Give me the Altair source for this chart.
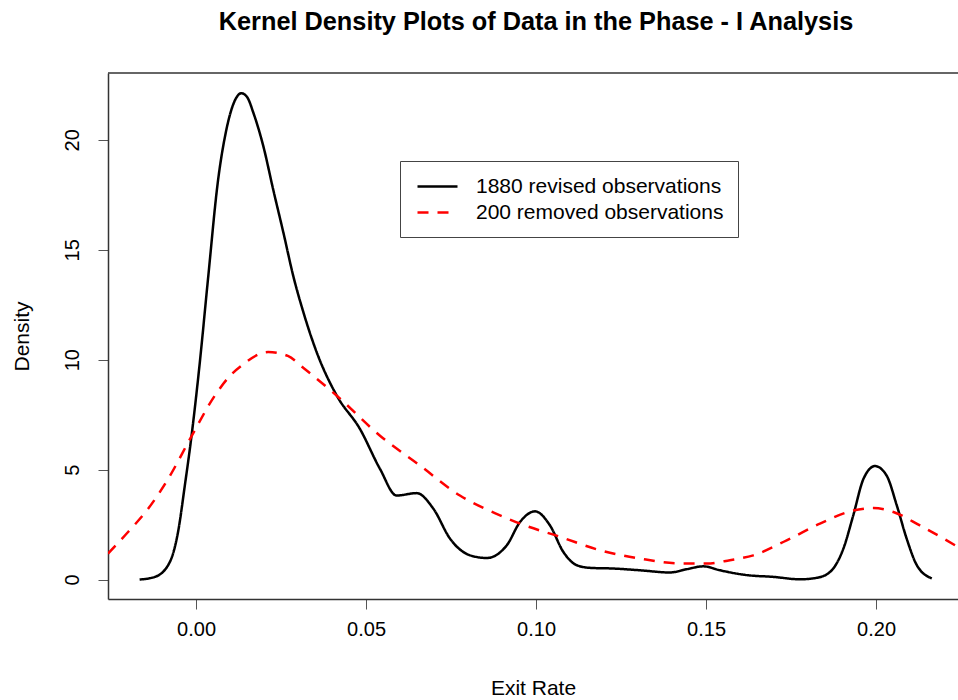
import altair as alt
import pandas as pd

# Black curve: 1880 revised observations
black_x = [-0.0166, -0.0121, -0.0077, -0.0053, -0.0033, -0.0014, 0.0011, 0.0035, 0.0065, 0.0089,
           0.0113, 0.0133, 0.0150, 0.0169, 0.0198, 0.0227, 0.0257, 0.0286, 0.0316, 0.0355,
           0.0414, 0.0482, 0.0541, 0.0590, 0.0649, 0.0698, 0.0747, 0.0806, 0.0855, 0.0914,
           0.0953, 0.0997, 0.1041, 0.1080, 0.1120, 0.1159, 0.1227, 0.1306, 0.1394, 0.1443,
           0.1492, 0.1541, 0.1620, 0.1698, 0.1776, 0.1826, 0.1865, 0.1904, 0.1933, 0.1963,
           0.1997, 0.2031, 0.2061, 0.2090, 0.2120, 0.2164]
black_y = [0.00, 0.12, 0.80, 2.16, 4.28, 6.45, 9.87, 13.65, 18.20, 20.45,
           21.75, 22.12, 21.95, 21.21, 19.70, 17.73, 15.77, 13.80, 12.14, 10.33,
           8.36, 6.85, 5.03, 3.82, 3.93, 3.22, 1.86, 1.10, 0.98, 1.56,
           2.62, 3.10, 2.46, 1.26, 0.65, 0.53, 0.50, 0.42, 0.32, 0.47,
           0.60, 0.42, 0.20, 0.12, 0.01, 0.08, 0.35, 1.41, 2.92, 4.58,
           5.16, 4.73, 3.37, 1.86, 0.65, 0.05]

# Red dashed curve: 200 removed observations
red_x = [-0.0259, -0.0200, -0.0141, -0.0082, -0.0014, 0.0055, 0.0100, 0.0133, 0.0212, 0.0270,
         0.0316, 0.0414, 0.0541, 0.0659, 0.0776, 0.0894, 0.0953, 0.1071, 0.1188, 0.1306,
         0.1424, 0.1502, 0.1570, 0.1639, 0.1737, 0.1835, 0.1933, 0.1992, 0.2051, 0.2129,
         0.2241]
red_y = [1.18, 2.16, 3.22, 4.58, 6.50, 8.36, 9.27, 9.72, 10.35, 10.17,
         9.62, 8.36, 6.54, 5.18, 3.82, 2.92, 2.54, 1.94, 1.33, 0.95,
         0.73, 0.73, 0.88, 1.10, 1.78, 2.54, 3.14, 3.25, 3.07, 2.46,
         1.48]

series_names = ["1880 revised observations", "200 removed observations"]
x_ticks = [0.0, 0.05, 0.10, 0.15, 0.20]
y_ticks = [0, 5, 10, 15, 20]

df = pd.concat([
    pd.DataFrame({"x": black_x, "y": black_y, "series": series_names[0], "order": range(len(black_x))}),
    pd.DataFrame({"x": red_x, "y": red_y, "series": series_names[1], "order": range(len(red_x))}),
])

FONT = "Liberation Sans"
W, H = 850, 526

legend = alt.Legend(
    title=None, orient="none", legendX=292, legendY=88,
    strokeColor="#444444", fillColor="white", padding=14,
    symbolType="M-2,0L2,0", symbolSize=400, symbolStrokeWidth=2.5, symbolOffset=12,
    labelFont=FONT, labelFontSize=21, labelColor="black", labelOffset=27,
    rowPadding=4, labelLimit=500,
)

lines = alt.Chart(df).mark_line(clip=True, strokeWidth=2.5, interpolate="monotone").encode(
    x=alt.X("x:Q",
            scale=alt.Scale(domain=[-0.0259, 0.2241], nice=False, zero=False),
            axis=alt.Axis(values=x_ticks, format=".2f", title="Exit Rate",
                          tickSize=10, labelPadding=10, titleY=89, titleBaseline="middle")),
    y=alt.Y("y:Q",
            scale=alt.Scale(domain=[-0.886, 23.04], nice=False, zero=False),
            axis=alt.Axis(values=y_ticks, format="d", title="Density",
                          tickSize=10, labelAngle=-90, labelAlign="center",
                          labelBaseline="bottom", labelPadding=16,
                          titleX=-86, titleBaseline="middle")),
    color=alt.Color("series:N", scale=alt.Scale(domain=series_names, range=["#000000", "#ff0000"]),
                    legend=legend),
    strokeDash=alt.StrokeDash("series:N", scale=alt.Scale(domain=series_names, range=[[1, 0], [11, 9]]),
                              legend=legend),
    order="order:Q",
)

top_border = alt.Chart(pd.DataFrame({"a": [0]})).mark_rule(color="#333333", strokeWidth=1.5).encode(
    x=alt.value(0), x2=alt.value(W), y=alt.value(0)
)

chart = alt.layer(lines, top_border).properties(
    width=W, height=H,
    autosize=alt.AutoSizeParams(type="none"),
    padding={"left": 108, "top": 73, "right": 0, "bottom": 101},
    title=alt.TitleParams("Kernel Density Plots of Data in the Phase - I Analysis",
                          font=FONT, fontSize=25.3, fontWeight="bold", color="black",
                          anchor="middle", offset=37, dx=3),
).configure_view(stroke=None).configure_axis(
    labelFont=FONT, labelFontSize=20, labelColor="black",
    titleFont=FONT, titleFontSize=21, titleColor="black", titleFontWeight="normal",
    domainColor="#333333", domainWidth=1.5, tickColor="#555555", tickWidth=1,
    grid=False,
)

chart.save("out.html", embed_options={"renderer": "svg", "actions": False})
